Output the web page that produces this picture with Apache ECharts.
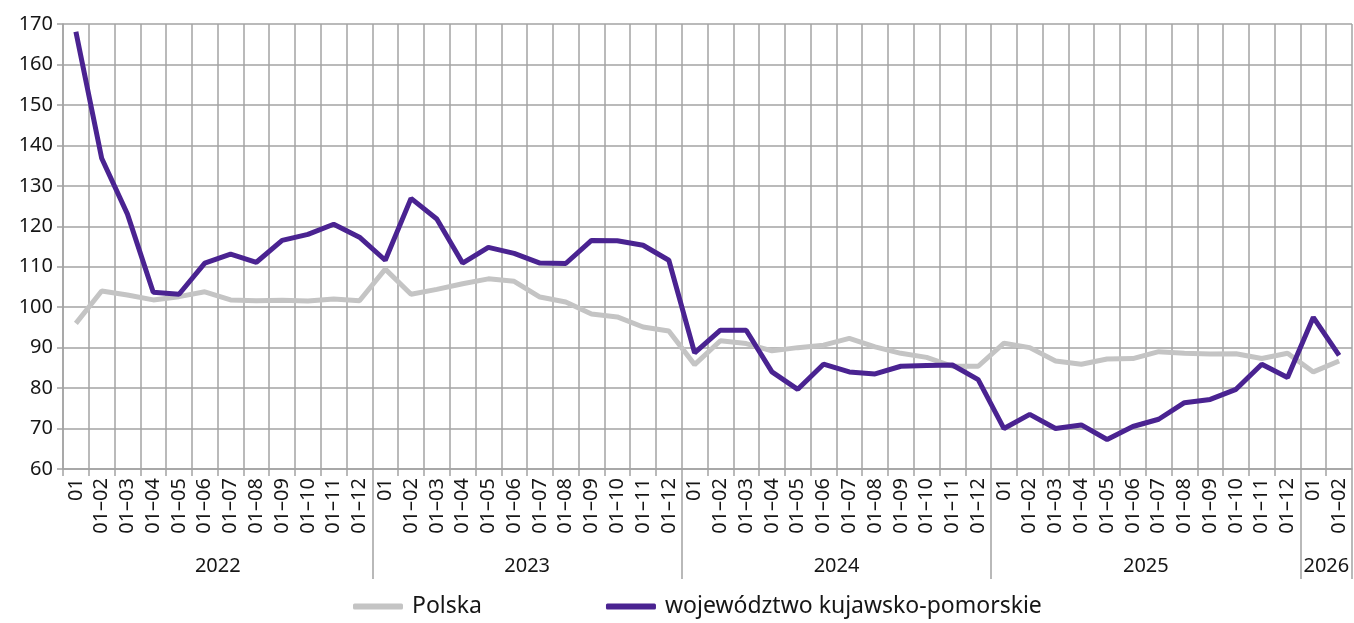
<!DOCTYPE html>
<html>
<head>
<meta charset="utf-8">
<script src="https://cdn.jsdelivr.net/npm/echarts@6/dist/echarts.min.js"></script>
<style>
html,body{margin:0;padding:0;background:#fff;}
#chart{width:1354px;height:623px;}
</style>
</head>
<body>
<div id="chart"></div>
<script>
const years = ['2022', '2023', '2024', '2025', '2026'];
const monthsPerYear = [12, 12, 12, 12, 2];
const periodLabels = ['01', '01–02', '01–03', '01–04', '01–05', '01–06', '01–07', '01–08', '01–09', '01–10', '01–11', '01–12'];
const polska = [
  96.0, 104.0, 103.0, 101.8, 102.6, 103.8, 101.8, 101.6, 101.7, 101.5, 102.0, 101.6,
  109.4, 103.2, 104.4, 105.8, 107.0, 106.4, 102.5, 101.3, 98.3, 97.6, 95.1, 94.1,
  85.8, 91.7, 91.0, 89.2, 90.0, 90.6, 92.3, 90.2, 88.6, 87.6, 85.4, 85.4,
  91.1, 90.0, 86.7, 85.9, 87.2, 87.3, 89.0, 88.6, 88.4, 88.5, 87.3, 88.6,
  84.0, 86.7
];
const kujawskoPomorskie = [
  168.1, 136.8, 123.0, 103.7, 103.2, 110.9, 113.1, 111.1, 116.5, 118.0, 120.5, 117.3,
  111.6, 126.9, 121.8, 110.9, 114.8, 113.3, 110.9, 110.8, 116.5, 116.4, 115.3, 111.6,
  88.7, 94.3, 94.3, 84.0, 79.7, 85.9, 84.0, 83.5, 85.4, 85.6, 85.7, 82.1,
  70.0, 73.5, 70.0, 70.9, 67.3, 70.5, 72.3, 76.4, 77.2, 79.7, 85.9, 82.6,
  97.5, 88.1
];
const yTicks = {min: 60, max: 170, interval: 10};
const seriesNames = ['Polska', 'województwo kujawsko-pomorskie'];

// build categories
const categories = [];
const yearStartIdx = [];
const yearLabelIdx = {};
let idx = 0;
monthsPerYear.forEach((n, yi) => {
  yearStartIdx.push(idx);
  yearLabelIdx[idx + Math.floor(n / 2) - 1] = years[yi];
  for (let m = 0; m < n; m++) {
    categories.push(years[yi] + '|' + periodLabels[m]);
    idx++;
  }
});

const FONT = 'Noto Sans';
const TXT = '#161616';
const GRID = '#a3a3a3';

const chart = echarts.init(document.getElementById('chart'), null, {renderer: 'canvas'});
chart.setOption({
  backgroundColor: '#ffffff',
  animation: false,
  textStyle: {fontFamily: FONT, color: TXT},
  grid: {left: 63, right: 2, top: 24, bottom: 154, containLabel: false},
  legend: {
    bottom: 0,
    left: 348,
    itemWidth: 50,
    itemHeight: 6,
    itemGap: 124,
    icon: 'roundRect',
    textStyle: {fontFamily: FONT, fontSize: 23, color: TXT, padding: [0, 0, 0, 4]},
    data: seriesNames
  },
  xAxis: [
    {
      type: 'category',
      data: categories,
      boundaryGap: true,
      position: 'bottom',
      axisLine: {show: true, lineStyle: {color: GRID, width: 1.5}},
      axisTick: {show: true, length: 7, interval: 0, lineStyle: {color: GRID, width: 1.5}},
      splitLine: {show: true, interval: 0, lineStyle: {color: GRID, width: 1.5}},
      axisLabel: {
        interval: 0,
        rotate: 90,
        margin: 9,
        fontFamily: FONT,
        fontSize: 20,
        color: TXT,
        formatter: v => v.split('|')[1]
      }
    },
    {
      type: 'category',
      data: categories,
      boundaryGap: true,
      position: 'bottom',
      axisLine: {show: false},
      axisTick: {
        show: true,
        length: 110,
        interval: (i) => i > 0 && yearStartIdx.indexOf(i) !== -1,
        lineStyle: {color: GRID, width: 1.5}
      },
      splitLine: {show: false},
      axisLabel: {
        interval: (i) => yearLabelIdx[i] !== undefined,
        margin: 87,
        fontFamily: FONT,
        fontSize: 20,
        color: TXT,
        verticalAlign: 'top',
        formatter: (v, i) => '{a|' + (yearLabelIdx[i] || '') + '}',
        rich: {a: {fontFamily: FONT, fontSize: 20, color: TXT, padding: [0, 0, 0, 26]}}
      }
    }
  ],
  yAxis: {
    type: 'value',
    min: yTicks.min,
    max: yTicks.max,
    interval: yTicks.interval,
    axisLine: {show: true, lineStyle: {color: GRID, width: 1.5}},
    axisTick: {show: true, length: 6, lineStyle: {color: GRID, width: 1.5}},
    splitLine: {show: true, lineStyle: {color: GRID, width: 1.5}},
    axisLabel: {fontFamily: FONT, fontSize: 20, color: TXT, margin: 10}
  },
  series: [
    {
      name: seriesNames[0],
      type: 'line',
      data: polska,
      symbol: 'none',
      lineStyle: {color: '#c4c4c4', width: 5},
      itemStyle: {color: '#c4c4c4'},
      z: 2
    },
    {
      name: seriesNames[1],
      type: 'line',
      data: kujawskoPomorskie,
      symbol: 'none',
      lineStyle: {color: '#4a2391', width: 5},
      itemStyle: {color: '#4a2391'},
      z: 3
    }
  ]
});
</script>
</body>
</html>
